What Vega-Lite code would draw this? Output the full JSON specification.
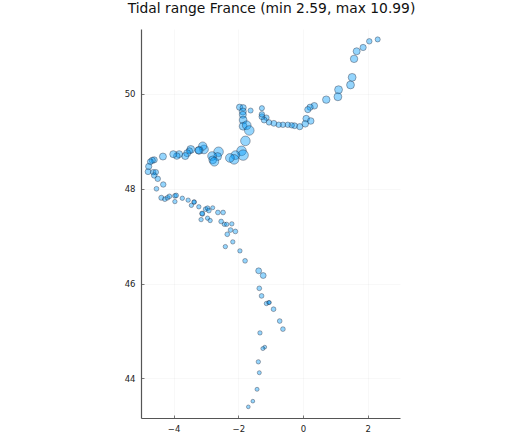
{"$schema":"https://vega.github.io/schema/vega-lite/v6.json","width":259,"height":389,"autosize":"none","padding":{"left":141,"top":29,"right":126,"bottom":20},"background":"white","title":{"text":"Tidal range France (min 2.59, max 10.99)","font":"DejaVu Sans","fontSize":13.85,"fontWeight":"normal","color":"#111","anchor":"middle","dx":1,"offset":13},"config":{"view":{"stroke":null}},"data":{"values":[
{"lon":2.31,"lat":51.15,"range":4.6},{"lon":2.05,"lat":51.11,"range":5.1},{"lon":1.86,"lat":50.98,"range":6.05},{"lon":1.66,"lat":50.90,"range":7.0},{"lon":1.58,"lat":50.74,"range":7.5},{"lon":1.52,"lat":50.35,"range":8.0},{"lon":1.47,"lat":50.19,"range":8.0},{"lon":1.10,"lat":50.09,"range":8.0},{"lon":1.08,"lat":49.94,"range":8.0},{"lon":0.72,"lat":49.88,"range":7.5},{"lon":0.35,"lat":49.75,"range":6.5},{"lon":0.22,"lat":49.72,"range":6.05},{"lon":0.15,"lat":49.67,"range":6.05},{"lon":0.10,"lat":49.48,"range":6.5},{"lon":0.24,"lat":49.43,"range":6.5},{"lon":0.07,"lat":49.37,"range":6.5},{"lon":-0.10,"lat":49.31,"range":6.05},{"lon":-0.26,"lat":49.33,"range":5.6},{"lon":-0.35,"lat":49.34,"range":5.1},{"lon":-0.47,"lat":49.35,"range":5.1},{"lon":-0.62,"lat":49.35,"range":5.1},{"lon":-0.75,"lat":49.35,"range":5.1},{"lon":-0.90,"lat":49.38,"range":5.6},{"lon":-1.05,"lat":49.40,"range":5.1},{"lon":-1.13,"lat":49.50,"range":5.1},{"lon":-1.20,"lat":49.45,"range":5.6},{"lon":-1.27,"lat":49.52,"range":5.6},{"lon":-1.27,"lat":49.57,"range":5.1},{"lon":-1.27,"lat":49.70,"range":4.6},{"lon":-1.62,"lat":49.65,"range":4.6},{"lon":-1.96,"lat":49.72,"range":6.05},{"lon":-1.85,"lat":49.71,"range":6.05},{"lon":-1.86,"lat":49.63,"range":7.0},{"lon":-1.86,"lat":49.56,"range":7.0},{"lon":-1.85,"lat":49.45,"range":8.0},{"lon":-1.85,"lat":49.32,"range":8.0},{"lon":-1.74,"lat":49.34,"range":9.0},{"lon":-1.66,"lat":49.23,"range":10.0},{"lon":-1.78,"lat":49.01,"range":10.0},{"lon":-1.90,"lat":48.80,"range":10.0},{"lon":-1.85,"lat":48.71,"range":10.99},{"lon":-2.09,"lat":48.71,"range":9.0},{"lon":-2.13,"lat":48.62,"range":10.0},{"lon":-2.26,"lat":48.65,"range":9.0},{"lon":-2.61,"lat":48.78,"range":10.0},{"lon":-2.64,"lat":48.68,"range":8.0},{"lon":-2.81,"lat":48.69,"range":9.0},{"lon":-2.79,"lat":48.61,"range":8.0},{"lon":-2.74,"lat":48.57,"range":9.0},{"lon":-3.06,"lat":48.83,"range":9.0},{"lon":-3.10,"lat":48.90,"range":8.5},{"lon":-3.21,"lat":48.81,"range":8.0},{"lon":-3.23,"lat":48.81,"range":7.0},{"lon":-3.47,"lat":48.83,"range":8.0},{"lon":-3.51,"lat":48.80,"range":6.05},{"lon":-3.58,"lat":48.75,"range":7.0},{"lon":-3.64,"lat":48.69,"range":7.0},{"lon":-3.83,"lat":48.73,"range":7.0},{"lon":-3.90,"lat":48.69,"range":6.5},{"lon":-4.01,"lat":48.73,"range":7.0},{"lon":-4.33,"lat":48.68,"range":7.0},{"lon":-4.60,"lat":48.61,"range":6.05},{"lon":-4.66,"lat":48.60,"range":6.05},{"lon":-4.72,"lat":48.57,"range":5.6},{"lon":-4.77,"lat":48.47,"range":6.05},{"lon":-4.79,"lat":48.36,"range":5.6},{"lon":-4.63,"lat":48.35,"range":5.1},{"lon":-4.55,"lat":48.35,"range":5.1},{"lon":-4.60,"lat":48.28,"range":5.1},{"lon":-4.49,"lat":48.21,"range":5.1},{"lon":-4.32,"lat":48.09,"range":5.1},{"lon":-4.53,"lat":48.00,"range":4.1},{"lon":-4.38,"lat":47.81,"range":4.6},{"lon":-4.27,"lat":47.78,"range":4.1},{"lon":-4.19,"lat":47.81,"range":4.1},{"lon":-4.13,"lat":47.84,"range":4.1},{"lon":-3.96,"lat":47.85,"range":4.1},{"lon":-3.92,"lat":47.86,"range":4.1},{"lon":-3.96,"lat":47.73,"range":3.6},{"lon":-3.73,"lat":47.80,"range":3.6},{"lon":-3.55,"lat":47.76,"range":3.6},{"lon":-3.45,"lat":47.65,"range":3.6},{"lon":-3.36,"lat":47.72,"range":3.6},{"lon":-3.37,"lat":47.72,"range":3.6},{"lon":-3.22,"lat":47.62,"range":3.6},{"lon":-3.11,"lat":47.47,"range":4.1},{"lon":-3.12,"lat":47.48,"range":4.1},{"lon":-3.01,"lat":47.57,"range":4.1},{"lon":-2.95,"lat":47.59,"range":4.1},{"lon":-2.91,"lat":47.54,"range":4.1},{"lon":-2.79,"lat":47.60,"range":3.1},{"lon":-2.63,"lat":47.50,"range":4.1},{"lon":-2.47,"lat":47.50,"range":4.1},{"lon":-3.15,"lat":47.35,"range":3.6},{"lon":-2.95,"lat":47.38,"range":3.6},{"lon":-2.87,"lat":47.33,"range":3.6},{"lon":-2.53,"lat":47.31,"range":4.1},{"lon":-2.43,"lat":47.25,"range":3.6},{"lon":-2.36,"lat":47.25,"range":3.6},{"lon":-2.20,"lat":47.26,"range":3.6},{"lon":-2.24,"lat":47.13,"range":4.1},{"lon":-2.09,"lat":47.10,"range":4.1},{"lon":-2.34,"lat":47.04,"range":4.1},{"lon":-2.17,"lat":46.88,"range":3.6},{"lon":-2.40,"lat":46.78,"range":3.6},{"lon":-1.95,"lat":46.69,"range":3.6},{"lon":-1.79,"lat":46.48,"range":4.1},{"lon":-1.37,"lat":46.27,"range":5.6},{"lon":-1.23,"lat":46.17,"range":5.6},{"lon":-1.35,"lat":45.90,"range":4.1},{"lon":-1.28,"lat":45.74,"range":4.1},{"lon":-1.13,"lat":45.58,"range":3.6},{"lon":-1.06,"lat":45.60,"range":3.1},{"lon":-1.04,"lat":45.60,"range":3.1},{"lon":-0.91,"lat":45.46,"range":4.1},{"lon":-0.72,"lat":45.21,"range":4.1},{"lon":-0.62,"lat":45.04,"range":4.1},{"lon":-1.33,"lat":44.96,"range":3.6},{"lon":-1.18,"lat":44.66,"range":2.59},{"lon":-1.24,"lat":44.63,"range":3.1},{"lon":-1.38,"lat":44.35,"range":3.6},{"lon":-1.35,"lat":44.12,"range":3.1},{"lon":-1.42,"lat":43.77,"range":3.1},{"lon":-1.55,"lat":43.52,"range":2.59},{"lon":-1.69,"lat":43.40,"range":2.59}
]},"mark":{"type":"circle","fill":"#009AFA","fillOpacity":0.42,"stroke":"#223","strokeOpacity":0.42,"strokeWidth":0.9,"clip":false},"encoding":{"x":{"field":"lon","type":"quantitative","scale":{"domain":[-5.008,3.0],"nice":false,"zero":false},"axis":{"title":null,"values":[-4,-2,0,2],"grid":true,"gridColor":"#000","gridOpacity":0.05,"gridWidth":0.6,"domainColor":"#555","domainWidth":1.2,"tickColor":"#555","tickSize":-3,"tickWidth":0.8,"labelFont":"DejaVu Sans","labelFontSize":8.5,"labelColor":"#222","labelPadding":9,"labelExpr":"replace(datum.label,'-','−')"}},"y":{"field":"lat","type":"quantitative","scale":{"domain":[43.165,51.37],"nice":false,"zero":false},"axis":{"title":null,"values":[44,46,48,50],"grid":true,"gridColor":"#000","gridOpacity":0.05,"gridWidth":0.6,"domainColor":"#555","domainWidth":1.2,"tickColor":"#555","tickSize":-3,"tickWidth":0.8,"labelFont":"DejaVu Sans","labelFontSize":8.5,"labelColor":"#222","labelPadding":9}},"size":{"field":"range","type":"quantitative","legend":null,"scale":{"type":"pow","exponent":2,"domain":[2.59,10.99],"range":[14,110]}}}}
